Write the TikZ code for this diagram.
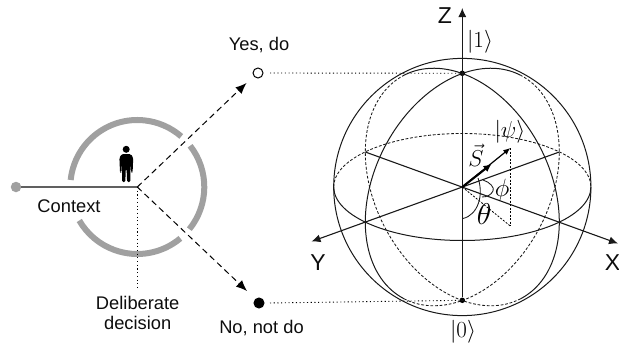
\documentclass[tikz,border=0pt]{standalone}
\usepackage{fix-cm}
\usepackage[no-math]{fontspec}
\setmainfont{Liberation Sans}
\usetikzlibrary{arrows.meta}
\definecolor{ringgray}{HTML}{A0A0A0}
\definecolor{ctxline}{HTML}{606060}
\tikzset{
  x=1pt,y=1pt,
  lbl/.style={inner sep=0pt,font=\fontsize{18.3}{22}\selectfont,text=black!95},
  axlbl/.style={inner sep=0pt,font=\fontsize{23}{26}\selectfont,text=black!95},
  mlbl/.style={inner sep=0pt,font=\fontsize{23}{26}\selectfont,text=black},
  ring/.style={line width=6pt,draw=ringgray},
  wire/.style={line width=1pt,black!90},
  backwire/.style={line width=0.85pt,black!90,dash pattern=on 2.8pt off 1.8pt},
  dots/.style={line width=0.9pt,black,dash pattern=on 1.1pt off 2.6pt},
  dash arrow/.style={line width=1pt,black,dash pattern=on 6pt off 4pt,-{Latex[length=11pt,width=9pt]}},
  axis arrow/.style={line width=1.1pt,black!90,-{Latex[length=9pt,width=8pt]}},
  pole/.style={circle,fill=black,minimum size=5.5pt,inner sep=0pt},
  state/.style={circle,draw=black,line width=1pt,minimum size=10pt,inner sep=0pt},
}
\begin{document}
\begin{tikzpicture}
\useasboundingbox (0,-348) rectangle (619,0);
% left part
\coordinate (c) at (137.3,-187);
\draw[ring] (c) ++(174:67) arc[start angle=174,end angle=49,radius=67];
\draw[ring] (c) ++(38:67) arc[start angle=38,end angle=-39,radius=67];
\draw[ring] (c) ++(-50:67) arc[start angle=-50,end angle=-150,radius=67];
\node[circle,fill=ringgray,minimum size=10.5pt,inner sep=0pt] (ctx) at (16,-187) {};
\draw[line width=1.3pt,ctxline] (ctx) -- (c);
\node[lbl] (ctxt) at (69,-206) {Context};
% person
\fill[black] (126.2,-149.3) circle[radius=3.5];
\fill[black,rounded corners=1.3pt] (120,-172.5) -- (119.4,-158) -- (121.5,-154.2) -- (131,-154.2) -- (133.2,-158) -- (132.6,-172.5) -- (131.2,-172.5) -- (130.4,-162) -- (130.4,-182) -- (127.1,-182) -- (126.6,-169) -- (125.8,-169) -- (125.3,-182) -- (122,-182) -- (122,-162) -- (121.4,-172.5) -- cycle;
% outcomes
\node[state,fill=white] (yes) at (258,-73) {};
\node[state,fill=black] (no) at (259,-303) {};
\coordinate (yt) at (246.5,-83);
\coordinate (nt) at (247,-291);
\draw[dash arrow] (c) -- (yt);
\draw[dash arrow] (c) -- (nt);
\node[lbl] (yl) at (259,-45) {Yes, do};
\node[lbl] (nl) at (261.5,-328) {No, not do};
\coordinate (dd) at (137.3,-287);
\draw[dots] (c) -- (dd);
\node[lbl,align=center] (dl) at (137.7,-313) {Deliberate\\[-2pt]decision};
% sphere
\coordinate (o) at (462.3,-187);
\node[pole] (p1) at (462.3,-73.3) {};
\node[pole] (p0) at (462.3,-300.3) {};
\draw[dots] (yes) ++(12,0) -- (p1);
\draw[dots] (no) ++(11,0) -- (p0);
\draw[wire] (o) circle[radius=128.6];
\draw[wire] (333.7,-187) arc[start angle=180,end angle=360,x radius=128.6,y radius=53.5];
\draw[backwire] (333.7,-187) arc[start angle=180,end angle=0,x radius=128.6,y radius=53.5];
% meridians: visible part solid, hidden part dashed
\draw[wire,domain=-37:143,samples=72,smooth] plot ({462.3-97*sin(\x)},{-187+113.5*cos(\x)-35*sin(\x)});
\draw[wire,domain=-37:143,samples=72,smooth] plot ({462.3+97*sin(\x)},{-187+113.5*cos(\x)-35*sin(\x)});
\draw[backwire,domain=143:323,samples=72,smooth] plot ({462.3-97*sin(\x)},{-187+113.5*cos(\x)-35*sin(\x)});
\draw[backwire,domain=143:323,samples=72,smooth] plot ({462.3+97*sin(\x)},{-187+113.5*cos(\x)-35*sin(\x)});
% axes
\coordinate (xb) at (365.3,-152);
\coordinate (yb) at (559.3,-152);
\coordinate (xt) at (618,-243.5);
\coordinate (yt2) at (311.5,-241.5);
\coordinate (zt) at (462.3,-8);
\draw[axis arrow] (xb) -- (xt);
\draw[axis arrow] (yb) -- (yt2);
\draw[axis arrow] (p0) -- (zt);
\node[axlbl] (zl) at (445,-16) {Z};
\node[axlbl] (yyl) at (318,-263) {Y};
\node[axlbl] (xl) at (612.5,-263) {X};
\node[mlbl] (k1) at (480,-42) {$|1\rangle$};
\node[mlbl] (k0) at (463,-332) {$|0\rangle$};
% state vector
\coordinate (psi) at (510.3,-148);
\coordinate (foot) at (510.3,-226);
\coordinate (stip) at (491.5,-164);
\draw[dots,line width=0.8pt,dash pattern=on 2pt off 1.5pt] (psi) -- (foot);
\draw[dots,line width=0.8pt,dash pattern=on 2pt off 1.5pt] (o) -- (foot);
\draw[line width=1.2pt,black,-{Latex[length=7pt,width=6pt]}] (o) -- (psi);
\draw[line width=2.1pt,black,-{Latex[length=8pt,width=7.5pt]}] (o) -- (stip);
\draw[line width=0.85pt,black!90] (483,-180) .. controls (490,-182) and (495,-188) .. (493,-191) .. controls (491,-195) and (487,-197) .. (482,-197);
\draw[line width=0.85pt,black!90] (478,-178) .. controls (484,-195) and (478,-215) .. (463,-218.5);
\node[mlbl] (pl) at (510,-132) {$|\psi\rangle$};
\node[mlbl] (sl) at (476,-155) {$\vec{S}$};
\node[mlbl,font=\fontsize{25}{28}\selectfont] (phl) at (502,-190) {$\phi$};
\node[mlbl,font=\fontsize{30}{32}\selectfont] (thl) at (484,-214) {$\theta$};
\end{tikzpicture}
\end{document}
